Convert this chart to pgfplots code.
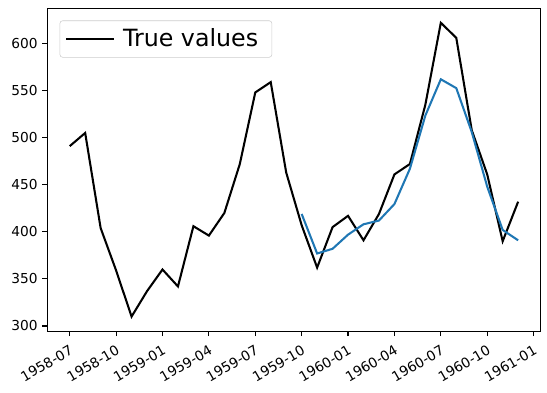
\documentclass[border=0pt]{standalone}
\usepackage{pgfplots}
\pgfplotsset{compat=1.18}
\usepackage{fontspec}
\setmainfont{DejaVu Sans}
\definecolor{mplblue}{HTML}{1F77B4}
\begin{document}
\begin{tikzpicture}
\begin{axis}[
  scale only axis,
  width=359.3pt, height=235.4pt,
  xmin=-1.45, xmax=30.45,
  ymin=294.4, ymax=637.6,
  xtick={0,3,6,9,12,15,18,21,24,27,30},
  xticklabels={1958-07,1958-10,1959-01,1959-04,1959-07,1959-10,1960-01,1960-04,1960-07,1960-10,1961-01},
  ytick={300,350,400,450,500,550,600},
  xticklabel style={rotate=30, anchor=north east, inner sep=1.5pt, xshift=-2pt, yshift=-3.5pt, font=\fontsize{10pt}{12pt}\selectfont},
  yticklabel style={font=\fontsize{10pt}{12pt}\selectfont},
  /pgf/number format/assume math mode=true,
  tick align=outside,
  tick pos=left,
  major tick length=3.5pt,
  every tick/.style={black, line width=0.8pt},
  axis line style={line width=0.8pt},
  legend style={at={(axis cs:-1.45,637.6)}, anchor=north west, xshift=9pt, yshift=-9pt,
    draw=black!20, rounded corners=2pt, font=\fontsize{17.28}{20}\selectfont,
    inner xsep=4pt, inner ysep=4pt},
  legend cell align=left,
  legend image code/.code={\draw[#1] (0pt,0pt) -- (34.5pt,0pt);},
  legend style={nodes={inner xsep=6pt}},
]
\addplot[black, line width=1.5pt] coordinates {
(0,491) (1,505) (2,404) (3,359) (4,310) (5,337)
(6,360) (7,342) (8,406) (9,396) (10,420) (11,472)
(12,548) (13,559) (14,463) (15,407) (16,362) (17,405)
(18,417) (19,391) (20,419) (21,461) (22,472) (23,535)
(24,622) (25,606) (26,508) (27,461) (28,390) (29,432)
};
\addlegendentry{True values}
\addplot[mplblue, line width=1.5pt, forget plot] coordinates {
(15,419) (16,377) (17,382) (18,397) (19,408) (20,412)
(21,429.5) (22,467) (23,523.5) (24,562) (25,552.6) (26,506)
(27,448) (28,402) (29,391)
};
\end{axis}
\path ([shift={(-5pt,-5pt)}]current bounding box.south west)
      ([shift={(4.3pt,5.5pt)}]current bounding box.north east);
\end{tikzpicture}
\end{document}
